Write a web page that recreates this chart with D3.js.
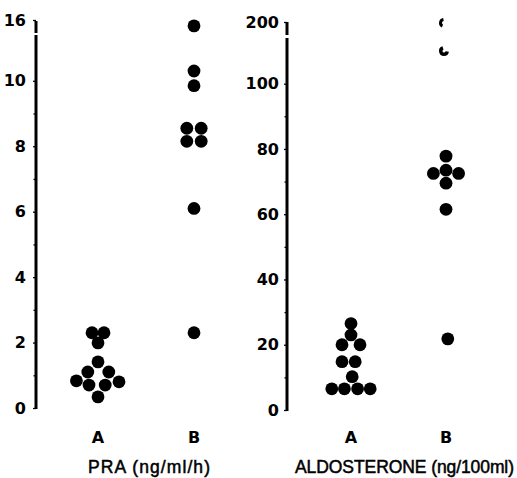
<!DOCTYPE html>
<html lang="en">
<head>
<meta charset="UTF-8">
<title>PRA and Aldosterone</title>
<script src="https://d3js.org/d3.v7.min.js"></script>
<style>
    body { margin: 0; background: #fff; }
    svg { display: block; }
    .tick text { font-family: "DejaVu Sans", sans-serif; font-weight: bold; fill: #000; }
    .cat { font-family: "DejaVu Sans", sans-serif; font-weight: bold; font-size: 16px; }
    .title { font-family: "Liberation Sans", Arial, sans-serif; font-size: 17.5px; stroke: #000; stroke-width: 0.5px; }
</style>
</head>
<body>
<script>
// groups
var groups = ['A', 'B'];

// PRA (ng/ml/h)
var praA = [2.3, 2.3, 1.99, 1.41, 1.1, 1.1, 0.83, 0.8, 0.7, 0.7, 0.34];
var praALane = [-1, 1, 0, 0, -1.7, 1.8, -3.6, 3.5, -1.5, 1.2, 0];
var praB = [14.2, 10.3, 9.85, 8.55, 8.55, 8.15, 8.15, 6.1, 2.3];
var praBLane = [0, 0, 0, -1.2, 1.2, -1.2, 1.2, 0, 0];
var praTicks = [0, 2, 4, 6, 8, 10, 16];
var praMinor = [1, 3, 5, 7, 9];

// ALDOSTERONE (ng/100ml)
var aldoA = [26.5, 23, 20, 20, 14.8, 14.8, 10.2, 6.5, 6.5, 6.5, 6.5];
var aldoALane = [0, 0, -1.5, 1.5, -1.5, 0.7, 0.2, -3.2, -1.1, 1.1, 3.2];
var aldoB = [77.8, 73.5, 72.5, 72.5, 69.5, 61.5, 21.8];
var aldoBLane = [0, 0, -2.1, 2.1, 0, 0, 0.3];
var aldoBFaint = [195, 110];   // the two half-printed marks at the top
var aldoTicks = [0, 20, 40, 60, 80, 100, 200];
var aldoMinor = [10, 30, 50, 70, 90];

var W = 517, H = 478, r = 6.4, laneW = 6;

var svg = d3.select('body').append('svg')
    .attr('width', W).attr('height', H);

function panel(opt) {
    var g = svg.append('g');
    var y = d3.scaleLinear().domain(opt.domain).range(opt.range);
    var x = d3.scalePoint().domain(groups).range(opt.xr);

    // minor ticks
    g.append('g')
        .attr('transform', 'translate(' + opt.ax + ',0)')
        .call(d3.axisLeft(y).tickValues(opt.minor).tickSize(2.5).tickFormat(''))
        .call(function(a) { a.select('.domain').remove(); a.selectAll('line').attr('stroke-width', 1.3); });

    // major ticks + labels
    g.append('g')
        .attr('transform', 'translate(' + opt.ax + ',0)')
        .call(d3.axisLeft(y).tickValues(opt.ticks).tickSize(3).tickPadding(opt.pad))
        .call(function(a) {
            a.select('.domain').remove();
            a.selectAll('line').attr('stroke-width', 1.3);
            a.selectAll('text').style('font-size', opt.fs + 'px');
        });

    // broken axis line
    g.append('line').attr('x1', opt.ax).attr('x2', opt.ax)
        .attr('y1', y(0) + 1).attr('y2', opt.lowTop)
        .attr('stroke', '#000').attr('stroke-width', 3);
    g.append('line').attr('x1', opt.ax).attr('x2', opt.ax)
        .attr('y1', opt.upBot).attr('y2', opt.upTop)
        .attr('stroke', '#000').attr('stroke-width', 3);

    // dots
    [[opt.a, opt.aLane, 'A'], [opt.b, opt.bLane, 'B']].forEach(function(s) {
        g.append('g').selectAll('circle')
            .data(s[0])
            .enter().append('circle')
            .attr('cx', function(d, i) { return x(s[2]) + s[1][i] * laneW; })
            .attr('cy', function(d) { return y(d); })
            .attr('r', r)
            .attr('fill', '#000');
    });

    // category labels
    g.selectAll('.cat').data(groups).enter().append('text')
        .attr('class', 'cat')
        .attr('x', function(d) { return x(d); })
        .attr('y', 443)
        .attr('text-anchor', 'middle')
        .text(function(d) { return d; });

    g.append('text').attr('class', 'title')
        .attr('x', opt.tx).attr('y', 473)
        .attr('textLength', opt.tw)
        .attr('lengthAdjust', 'spacing')
        .text(opt.title);

    return {x: x, y: y, g: g};
}

panel({
    domain: [0, 11.4, 16], range: [408, 35, 20],
    xr: [98, 194], ax: 36, pad: 7, fs: 16,
    ticks: praTicks, minor: praMinor,
    lowTop: 35, upBot: 33, upTop: 21,
    a: praA, aLane: praALane, b: praB, bLane: praBLane,
    tx: 88, tw: 122, title: 'PRA (ng/ml/h)'
});

var right = panel({
    domain: [0, 114, 200], range: [410, 38, 22],
    xr: [351, 446], ax: 287, pad: 5, fs: 16,
    ticks: aldoTicks, minor: aldoMinor,
    lowTop: 38, upBot: 35, upTop: 22,
    a: aldoA, aLane: aldoALane, b: aldoB, bLane: aldoBLane,
    tx: 295, tw: 219, title: 'ALDOSTERONE (ng/100ml)'
});

// faint, partly printed marks
var arcs = [
    d3.arc().innerRadius(2).outerRadius(5).startAngle(Math.PI * 1.15).endAngle(Math.PI * 1.95),
    d3.arc().innerRadius(1.5).outerRadius(5).startAngle(Math.PI * 0.55).endAngle(Math.PI * 1.9)
];
right.g.append('g').selectAll('path')
    .data(aldoBFaint)
    .enter().append('path')
    .attr('transform', function(d) { return 'translate(' + (right.x('B') - 2) + ',' + right.y(d) + ')'; })
    .attr('d', function(d, i) { return arcs[i](); })
    .attr('fill', '#000');
</script>
</body>
</html>
